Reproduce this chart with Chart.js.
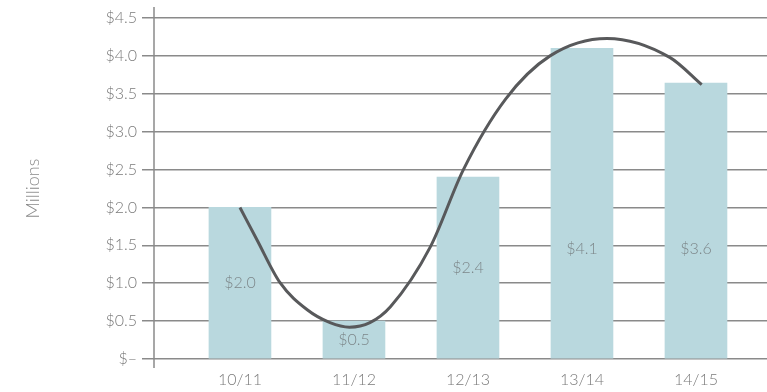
<!doctype html>
<html lang="en">
  <head>
    <meta charset="utf-8">
    <title>Millions by year</title>
    <style>
      * { margin: 0; padding: 0; }
      body { background: #fff; }
      .chartBox { width: 767px; height: 392px; }
    </style>
  </head>
  <body>
    <div class="chartBox">
      <canvas id="myChart"></canvas>
    </div>
    <script src="https://cdn.jsdelivr.net/npm/chart.js"></script>
    <script>
    // data
    const years = ['10/11', '11/12', '12/13', '13/14', '14/15'];
    const barValues = [2.0, 0.5, 2.4, 4.1, 3.64];
    const barLabels = ['$2.0', '$0.5', '$2.4', '$4.1', '$3.6'];
    // trend curve (x in year slots)
    const curveX = [0, 0.15, 0.35, 0.59, 0.79, 0.96, 1.14, 1.32, 1.67, 1.96, 2.33, 2.72, 3.22, 3.77, 4.05];
    const curveY = [2.0, 1.57, 1.01, 0.65, 0.48, 0.42, 0.48, 0.69, 1.48, 2.5, 3.43, 4.0, 4.23, 3.98, 3.62];
    const yTicks = [0, 0.5, 1, 1.5, 2, 2.5, 3, 3.5, 4, 4.5];

    const font = "Lato, 'Open Sans', sans-serif";
    const grey = '#7b7b7b';

    // labels inside the bars
    const barText = {
      id: 'barText',
      afterDatasetsDraw(chart) {
        const { ctx, scales: { x, y } } = chart;
        ctx.save();
        ctx.font = '300 16px ' + font;
        ctx.fillStyle = '#7d878a';
        ctx.textAlign = 'center';
        ctx.textBaseline = 'middle';
        barValues.forEach((v, i) => {
          const pos = Math.min(v / 2, 1.45);
          ctx.fillText(barLabels[i], x.getPixelForValue(i), y.getPixelForValue(pos));
        });
        ctx.restore();
      }
    };

    // vertical axis line, a bit longer than the plot
    const axisLine = {
      id: 'axisLine',
      afterDraw(chart) {
        const { ctx, chartArea } = chart;
        ctx.save();
        ctx.strokeStyle = '#8a8a8a';
        ctx.lineWidth = 1.5;
        ctx.beginPath();
        ctx.moveTo(chartArea.left, chartArea.top - 11);
        ctx.lineTo(chartArea.left, chartArea.bottom + 9);
        ctx.stroke();
        ctx.restore();
      }
    };

    const data = {
      datasets: [{
        type: 'line',
        data: curveX.map((x, i) => ({ x, y: curveY[i] })),
        borderColor: '#58595b',
        borderWidth: 3,
        pointRadius: 0,
        cubicInterpolationMode: 'monotone',
        fill: false
      }, {
        type: 'bar',
        data: barValues.map((v, i) => ({ x: i, y: v })),
        backgroundColor: '#b9d8de',
        barThickness: 62
      }]
    };

    const config = {
      data,
      options: {
        responsive: true,
        maintainAspectRatio: false,
        animation: false,
        layout: { padding: { top: 18, right: 0, left: 22, bottom: 0 } },
        plugins: { legend: { display: false }, tooltip: { enabled: false } },
        scales: {
          x: {
            type: 'linear',
            offset: false,
            min: -0.754,
            max: 4.623,
            grid: { display: false },
            border: { display: false },
            afterBuildTicks: (s) => { s.ticks = years.map((c, i) => ({ value: i })); },
            afterFit: (s) => { s.height = 33; },
            ticks: {
              color: grey,
              padding: 3,
              font: { family: font, size: 16, weight: 300 },
              callback: (v) => years[v]
            }
          },
          y: {
            min: 0,
            max: 4.5,
            afterBuildTicks: (s) => { s.ticks = yTicks.map(v => ({ value: v })); },
            afterFit: (s) => { s.width = 132; },
            grid: { color: '#8a8a8a', lineWidth: 1.5, tickLength: 12 },
            border: { display: false },
            title: {
              display: true,
              text: 'Millions',
              color: '#8a8a8a',
              font: { family: font, size: 18, weight: 300 },
              padding: { top: 0, bottom: 0 }
            },
            ticks: {
              color: grey,
              padding: 5,
              font: { family: font, size: 16, weight: 300 },
              callback: (v) => v === 0 ? '$\u2013' : '$' + v.toFixed(1)
            }
          }
        }
      },
      plugins: [barText, axisLine]
    };

    const myChart = new Chart(document.getElementById('myChart'), config);
    </script>
  </body>
</html>
